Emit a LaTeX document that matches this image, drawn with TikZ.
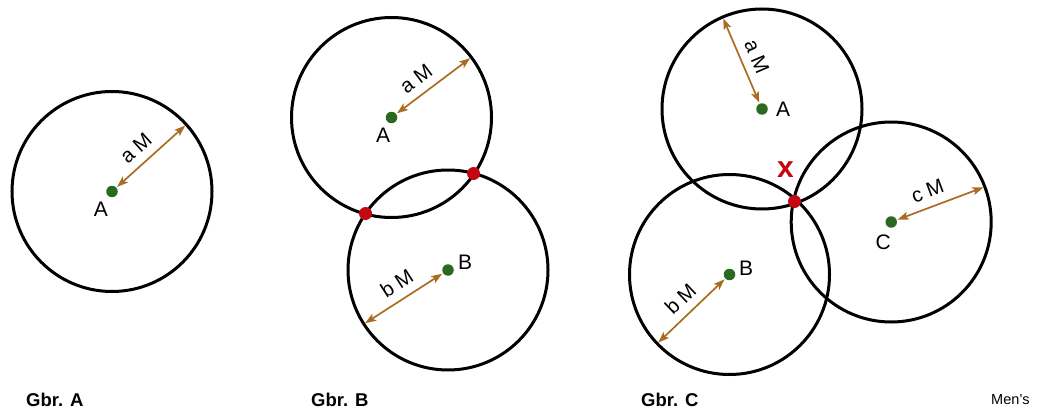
\documentclass[tikz,border=0pt]{standalone}
\usepackage{fontspec}
\setmainfont{Liberation Sans}
\usetikzlibrary{arrows.meta,calc}
\definecolor{arrowbrown}{RGB}{170,108,34}
\definecolor{ptgreen}{RGB}{42,105,32}
\definecolor{ptred}{RGB}{195,8,18}
\begin{document}
\begin{tikzpicture}[x=1pt,y=-1pt,
  ring/.style={draw=black,line width=3pt},
  radiusarrow/.style={draw=arrowbrown,line width=1.7pt,shorten <=1pt,
    {Stealth[length=11pt,width=8pt,inset=2.5pt]}-{Stealth[length=11pt,width=8pt,inset=2.5pt]}},
  centre/.style={circle,fill=ptgreen,inner sep=0pt,minimum size=11.5pt},
  crossing/.style={circle,fill=ptred,inner sep=0pt,minimum size=13pt},
  ptlabel/.style={font=\fontsize{21}{25}\selectfont,inner sep=0pt},
  dist/.style={font=\fontsize{20.5}{24}\selectfont,inner sep=0pt,sloped,above=8pt},
  caption/.style={font=\fontsize{18.5}{22}\selectfont\bfseries,inner sep=0pt,anchor=base west},
]
\useasboundingbox (0,0) rectangle (1041,412);

% ---------- Gbr. A ----------
\coordinate (gaA) at (112,191.5);
\draw[ring] (gaA) circle[radius=100pt];
\node[centre] (gaAdot) at (gaA) {};
\coordinate (gaAe) at ($(gaA)+(42:98.5pt)$);
\draw[radiusarrow] (gaAdot) -- node[dist,pos=0.44] {a M} (gaAe);
\node[ptlabel] (gaAlab) at ($(gaA)+(-11,17.5)$) {A};
\node[caption] (capA) at (26,406.5) {Gbr. A};

% ---------- Gbr. B ----------
\coordinate (gbA) at (391.5,117.5);
\coordinate (gbB) at (448,270);
\draw[ring] (gbA) circle[radius=100pt];
\draw[ring] (gbB) circle[radius=100pt];
\node[centre] (gbAdot) at (gbA) {};
\node[centre] (gbBdot) at (gbB) {};
\coordinate (gbAe) at ($(gbA)+(37:98.5pt)$);
\coordinate (gbBe) at ($(gbB)+(212.7:98.5pt)$);
\draw[radiusarrow] (gbAdot) -- node[dist,pos=0.40] {a M} (gbAe);
\draw[radiusarrow] (gbBdot) -- node[dist,pos=0.48] {b M} (gbBe);
\node[ptlabel] (gbAlab) at ($(gbA)+(-8.5,17.5)$) {A};
\node[ptlabel] (gbBlab) at ($(gbB)+(17,-8)$) {B};
\node[crossing] (gbX1) at (365.5,213.5) {};
\node[crossing] (gbX2) at (473.5,173.5) {};
\node[caption] (capB) at (311,406.5) {Gbr. B};

% ---------- Gbr. C ----------
\coordinate (gcA) at (762,109);
\coordinate (gcB) at (729.5,274.5);
\coordinate (gcC) at (891.2,222);
\draw[ring] (gcA) circle[radius=100pt];
\draw[ring] (gcB) circle[radius=100pt];
\draw[ring] (gcC) circle[radius=100pt];
\node[centre] (gcAdot) at (gcA) {};
\node[centre] (gcBdot) at (gcB) {};
\node[centre] (gcCdot) at (gcC) {};
\coordinate (gcAe) at ($(gcA)+(113.2:98.5pt)$);
\coordinate (gcBe) at ($(gcB)+(223.7:98.5pt)$);
\coordinate (gcCe) at ($(gcC)+(20.6:98.5pt)$);
\draw[radiusarrow] (gcAdot) -- node[dist,pos=0.48] {a M} (gcAe);
\draw[radiusarrow] (gcBdot) -- node[dist,pos=0.50] {b M} (gcBe);
\draw[radiusarrow] (gcCdot) -- node[dist,pos=0.42] {c M} (gcCe);
\node[ptlabel] (gcAlab) at ($(gcA)+(21,0)$) {A};
\node[ptlabel] (gcBlab) at ($(gcB)+(16.5,-6)$) {B};
\node[ptlabel] (gcClab) at ($(gcC)+(-8,20.5)$) {C};
\node[crossing] (gcX) at (794.5,201.5) {};
\node[font=\fontsize{30}{32}\selectfont\bfseries,text=ptred,inner sep=0pt] (gcMark) at (785.5,169.5) {x};
\node[caption] (capC) at (641,406.5) {Gbr. C};

\node[font=\fontsize{14.5}{17}\selectfont,inner sep=0pt,anchor=base west] (credit) at (991,404) {Men's};
\end{tikzpicture}
\end{document}
